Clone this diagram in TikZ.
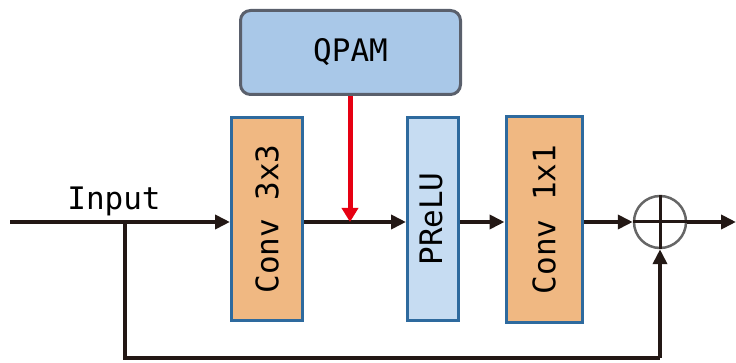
\documentclass[tikz,border=0pt]{standalone}
\usepackage{fontspec}
\setmonofont{DejaVu Sans Mono}
\usetikzlibrary{arrows.meta}
\definecolor{qfill}{HTML}{A9C8E8}
\definecolor{qedge}{HTML}{5A606C}
\definecolor{cfill}{HTML}{F0B882}
\definecolor{bedge}{HTML}{2E6A9E}
\definecolor{pfill}{HTML}{C6DCF2}
\definecolor{lineblk}{HTML}{231815}
\definecolor{redarr}{HTML}{E60012}
\begin{document}
\begin{tikzpicture}[x=1pt,y=-1pt,
  txt/.style={font=\ttfamily\fontsize{31}{31}\selectfont},
  blk/.style={draw=bedge,line width=3pt,inner sep=0pt},
  conn/.style={draw=lineblk,line width=4.5pt,-{Triangle[length=15pt,width=14pt]}},
  plain/.style={draw=lineblk,line width=4.5pt}]
\useasboundingbox (0,0) rectangle (736,363);
\node[draw=qedge,fill=qfill,line width=3pt,rounded corners=10pt,minimum width=220pt,minimum height=84pt,txt] (qpam) at (350.5,52.5) {QPAM};
\node[blk,fill=cfill,minimum width=71pt,minimum height=203pt] (c3) at (267,219) {};
\node[txt,rotate=90] at (c3) {Conv 3x3};
\node[blk,fill=pfill,minimum width=51pt,minimum height=203pt] (pr) at (433,219) {};
\node[txt,rotate=90] at ([xshift=-2pt]pr.center) {PReLU};
\node[blk,fill=cfill,minimum width=76pt,minimum height=205pt] (c1) at (544,219.5) {};
\node[txt,rotate=90] at (c1) {Conv 1x1};
\node[circle,draw=black!60,line width=2.5pt,minimum size=52pt,inner sep=0pt] (sum) at (660,222) {};
\draw[lineblk,line width=3pt] (sum.north) -- (sum.south) (sum.west) -- (sum.east);
\coordinate (in) at (10,222);
\coordinate (br) at (125,222);
\coordinate (bl) at (125,358);
\coordinate (brr) at (660,358);
\coordinate (out) at (736,222);
\coordinate (mid) at (350,222);
\node[txt,anchor=base] (inlbl) at (114,210) {Input};
\draw[conn] (in) -- (c3.west|-in);
\draw[plain] (br) -- (bl) -- (brr);
\draw[conn] (brr) -- (sum.south);
\draw[conn] (c3.east|-mid) -- (pr.west|-mid);
\draw[conn] (pr.east|-mid) -- (c1.west|-mid);
\draw[conn] (c1.east|-mid) -- (sum.west);
\draw[conn] (sum.east) -- (out);
\draw[draw=redarr,line width=5pt,-{Triangle[length=14pt,width=16pt]}] (qpam.south-|mid) -- (mid);
\end{tikzpicture}
\end{document}
